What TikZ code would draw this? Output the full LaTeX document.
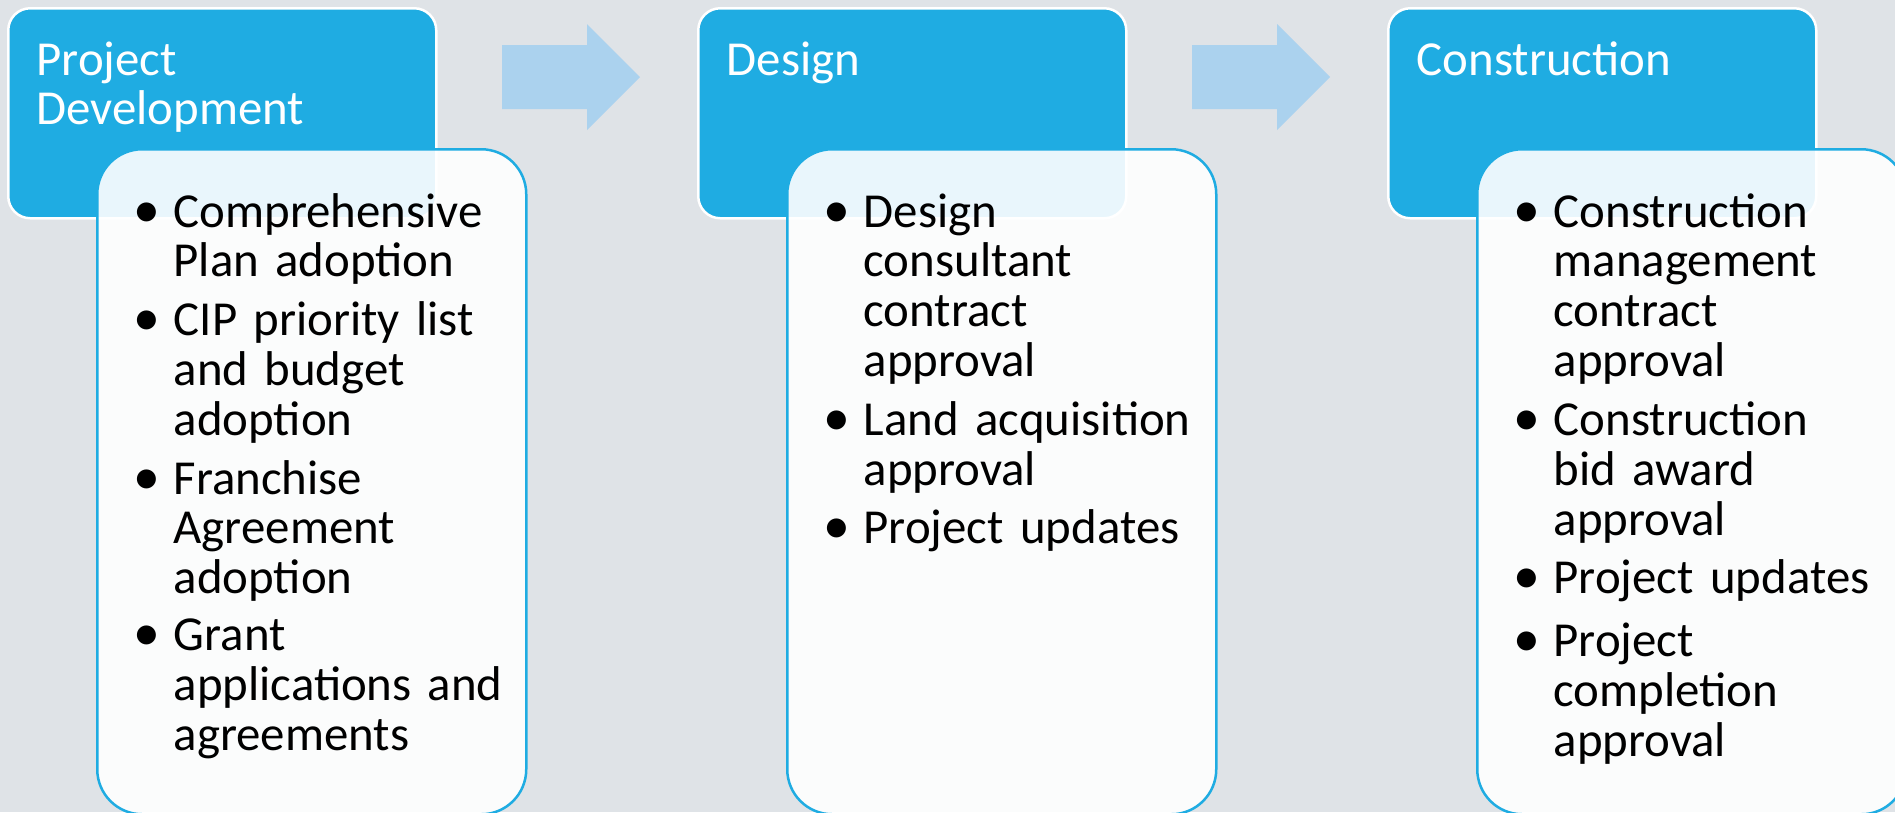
\documentclass[tikz,border=0pt]{standalone}
\usepackage{fontspec}
\setmainfont{Carlito}

\definecolor{slidegray}{RGB}{223,227,231}
\definecolor{stageblue}{RGB}{31,172,226}
\definecolor{arrowblue}{RGB}{171,210,238}

\def\stagefont{\fontsize{13.9pt}{14.2pt}\selectfont}
\def\bitem#1{\parskip=3.8pt\noindent\makebox[0.4cm][l]{\scalebox{1.1}{\textbullet}}\parbox[t]{3.45cm}{#1}\par}
\def\stagearrow(#1){\fill[arrowblue] (#1) -- ++(85,0) -- ++(0,-21) -- ++(53,53) -- ++(-53,53) -- ++(0,-21) -- ++(-85,0) -- cycle;}

\tikzset{
  stagehead/.style={draw=white, line width=0.25mm, fill=stageblue, rounded corners=2.2mm,
    minimum width=4.28cm, minimum height=2.1cm, anchor=north west, inner sep=0pt},
  stagebody/.style={draw=stageblue, line width=0.25mm, fill=white, fill opacity=0.9, rounded corners=4.5mm,
    minimum width=4.29cm, minimum height=6.65cm, anchor=north west, inner sep=0pt},
  headtext/.style={anchor=base west, inner sep=0pt, text=white, text width=3.9cm, align=left, font=\stagefont},
  bodytext/.style={anchor=base west, inner sep=0pt, text=black, text width=3.85cm, font=\stagefont},
}

\begin{document}
\begin{tikzpicture}[x=0.1mm,y=-0.1mm]
			%%%%% START %%%%%
			
			\fill[slidegray] (0,0) rectangle (1895,812);
			\useasboundingbox (0,0) rectangle (1895,812);
			\clip (0,0) rectangle (1895,812);
			
			\stagearrow(502,45)
			\stagearrow(1192,45)
			
			% project development
			\node[stagehead] (devhead) at (7,7) {};
			\node[stagebody] (devbody) at (96,148) {};
			\node[headtext] (devtitle) at (36,75) {Project\\Development};
			\node[bodytext] (devlist) at (133,227) {\bitem{Comprehensive\\Plan adoption}\bitem{CIP priority list\\and budget\\adoption}\bitem{Franchise\\Agreement\\adoption}\bitem{Grant\\applications and\\agreements}};
			
			% design
			\node[stagehead] (deshead) at (697,7) {};
			\node[stagebody] (desbody) at (786,148) {};
			\node[headtext] (destitle) at (726,75) {Design};
			\node[bodytext] (deslist) at (823,227) {\bitem{Design\\consultant\\contract\\approval}\bitem{Land acquisition\\approval}\bitem{Project updates}};
			
			% construction
			\node[stagehead] (conhead) at (1387,7) {};
			\node[stagebody] (conbody) at (1476,148) {};
			\node[headtext] (contitle) at (1416,75) {Construction};
			\node[bodytext] (conlist) at (1513,227) {\bitem{Construction\\management\\contract\\approval}\bitem{Construction\\bid award\\approval}\bitem{Project updates}\bitem{Project\\completion\\approval}};
			
			%%%%% END %%%%%
\end{tikzpicture}
\end{document}
